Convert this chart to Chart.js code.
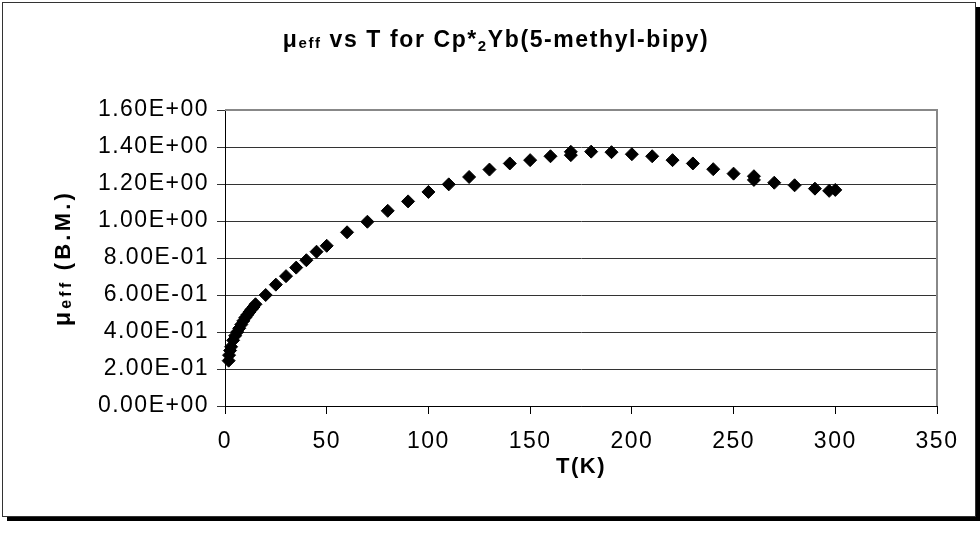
<!DOCTYPE html>
<html>
<head>
<meta charset="utf-8">
<script src="https://cdn.jsdelivr.net/npm/chart.js@4/dist/chart.umd.min.js"></script>
<style>
  html, body { margin: 0; padding: 0; background: #fff; }
  #wrap { width: 980px; height: 533px; }
</style>
</head>
<body>
<div id="wrap"><canvas id="c" width="980" height="533"></canvas></div>
<script>
// Effective magnetic moment of Cp*2Yb(5-methyl-bipy) against temperature
const temperatureK = [
  1.8, 2, 2.5, 3, 4, 5, 6, 7, 8, 9, 10, 11, 12, 13, 14, 15,
  20, 25, 30, 35, 40, 45, 50, 60, 70, 80, 90, 100, 110, 120, 130, 140,
  150, 160, 170, 170, 180, 190, 200, 210, 220, 230, 240, 250, 260, 260,
  270, 280, 290, 297, 300
];
const muEffBM = [
  0.245, 0.275, 0.300, 0.320, 0.355, 0.380, 0.400, 0.420, 0.440, 0.460, 0.478, 0.493, 0.508, 0.522, 0.535, 0.550,
  0.600, 0.656, 0.702, 0.748, 0.788, 0.834, 0.866, 0.939, 0.996, 1.055, 1.106, 1.157, 1.198, 1.238, 1.278, 1.311,
  1.329, 1.350, 1.356, 1.374, 1.375, 1.372, 1.361, 1.350, 1.329, 1.311, 1.280, 1.256, 1.242, 1.222,
  1.207, 1.193, 1.175, 1.163, 1.168
];
const xTickLabels = ['0', '50', '100', '150', '200', '250', '300', '350'];
const yTickLabels = ['0.00E+00', '2.00E-01', '4.00E-01', '6.00E-01', '8.00E-01',
                     '1.00E+00', '1.20E+00', '1.40E+00', '1.60E+00'];

const FONT = '"Liberation Sans", Arial, sans-serif';
const TEXT_SPACING = '1.5px';

// Draw a run of [text, font, baselineShift] pieces centred on (cx, y)
function drawRuns(ctx, runs, cx, y, spacing) {
  ctx.letterSpacing = spacing;
  let total = 0;
  const widths = runs.map(r => { ctx.font = r[1]; const w = ctx.measureText(r[0]).width; total += w; return w; });
  let x = cx - total / 2;
  runs.forEach((r, i) => {
    ctx.font = r[1];
    ctx.fillText(r[0], x, y + r[2]);
    x += widths[i];
  });
}

const framePlugin = {
  id: 'frame',
  beforeDraw(chart) {
    const ctx = chart.ctx;
    ctx.save();
    ctx.letterSpacing = '0px';
    ctx.fillStyle = '#fff';
    ctx.fillRect(0, 0, chart.width, chart.height);
    // drop shadow of the chart frame
    ctx.fillStyle = '#000';
    ctx.fillRect(7, 517, 973, 4);
    ctx.fillRect(976, 7, 4, 514);
    // frame
    ctx.strokeStyle = '#333';
    ctx.lineWidth = 1;
    ctx.strokeRect(2.5, 2.5, 973, 514);
    ctx.restore();
    // spacing used by the tick labels
    ctx.letterSpacing = TEXT_SPACING;
  },
  beforeDatasetsDraw(chart) {
    const { ctx, chartArea: a } = chart;
    ctx.save();
    ctx.strokeStyle = '#888';
    ctx.lineWidth = 2;
    ctx.beginPath();
    ctx.moveTo(a.left, a.top);
    ctx.lineTo(a.right, a.top);
    ctx.lineTo(a.right, a.bottom);
    ctx.stroke();
    ctx.restore();
  },
  afterDraw(chart) {
    const ctx = chart.ctx;
    const a = chart.chartArea;
    ctx.save();
    ctx.fillStyle = '#000';
    ctx.textAlign = 'left';
    ctx.textBaseline = 'alphabetic';
    const big = 'bold 23px ' + FONT;
    const small = 'bold 15px ' + FONT;
    // chart title
    drawRuns(ctx, [
      ['\u03bc', big, 0], ['eff', small, 1], [' vs T for Cp*', big, 0],
      ['2', small, 4], ['Yb(5-methyl-bipy)', big, 0]
    ], 496, 47, '1.6px');
    // x axis title
    drawRuns(ctx, [['T(K)', 'bold 22px ' + FONT, 0]], (a.left + a.right) / 2, 473, '1.5px');
    // y axis title
    ctx.translate(70, (a.top + a.bottom) / 2);
    ctx.rotate(-Math.PI / 2);
    drawRuns(ctx, [
      ['\u03bc', 'bold 23px ' + FONT, 0], ['eff', 'bold 16px ' + FONT, 1], [' (B.M.)', 'bold 22px ' + FONT, 0]
    ], 0, 0, '3.2px');
    ctx.restore();
  }
};

new Chart(document.getElementById('c'), {
  type: 'scatter',
  data: {
    datasets: [{
      data: temperatureK.map((t, i) => ({ x: t, y: muEffBM[i] })),
      pointStyle: 'rectRot',
      pointRadius: 6.5,
      pointBackgroundColor: '#000',
      pointBorderColor: '#000',
      pointBorderWidth: 1,
      showLine: false,
      clip: false
    }]
  },
  options: {
    responsive: false,
    devicePixelRatio: 1,
    animation: false,
    layout: { padding: { left: 0, right: 43, top: 110, bottom: 0 } },
    plugins: { legend: { display: false }, tooltip: { enabled: false }, title: { display: false } },
    scales: {
      x: {
        type: 'linear', min: 0, max: 350,
        ticks: {
          stepSize: 50, color: '#000', padding: 14, maxRotation: 0,
          font: { family: FONT, size: 23 },
          callback: (v, i) => xTickLabels[i]
        },
        grid: { drawOnChartArea: false, drawTicks: true, tickLength: 8, color: '#000' },
        border: { color: '#000', width: 1 },
        afterFit: s => { s.height = 127; }
      },
      y: {
        type: 'linear', min: 0, max: 1.6,
        ticks: {
          stepSize: 0.2, color: '#000', padding: 8,
          font: { family: FONT, size: 23 },
          callback: (v, i) => yTickLabels[i]
        },
        grid: {
          drawTicks: true, tickLength: 8, lineWidth: 1,
          color: c => (c.index === yTickLabels.length - 1 ? '#888' : '#333'),
          tickColor: '#333'
        },
        border: { color: '#000', width: 1 },
        afterFit: s => { s.width = 225; }
      }
    }
  },
  plugins: [framePlugin]
});
</script>
</body>
</html>
